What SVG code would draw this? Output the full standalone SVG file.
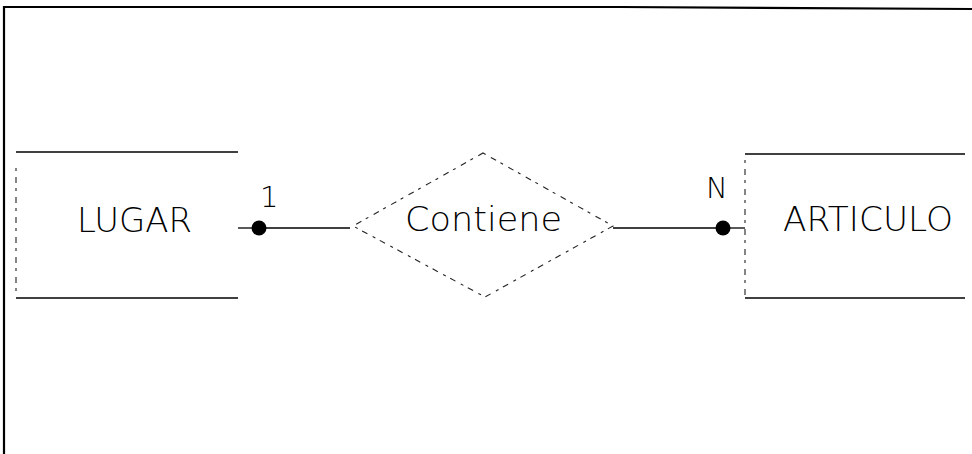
<svg xmlns="http://www.w3.org/2000/svg" width="972" height="454" viewBox="0 0 972 454">
  <style>
    .frame { stroke: #000; stroke-width: 2.2; fill: none; }
    .edge { stroke: #000; stroke-width: 1.3; fill: none; }
    .broken { stroke: #222; stroke-width: 1.1; fill: none; stroke-dasharray: 3 6 6 5; }
    .lbl { font-family: "DejaVu Sans", "Liberation Sans", sans-serif; font-weight: 200; fill: #000; }
    .name { font-size: 34px; }
    .card { font-size: 29px; }
    .dot { fill: #000; }
  </style>

  <!-- sheet frame: top and left edges only -->
  <g id="frame">
    <path class="frame" d="M3,7 L620,7 L972,9"/>
    <line class="frame" x1="4" y1="6" x2="4" y2="454"/>
  </g>

  <!-- entity LUGAR -->
  <g id="lugar">
    <line class="edge" x1="16" y1="152" x2="238" y2="152"/>
    <line class="edge" x1="16" y1="298" x2="238" y2="298"/>
    <line class="broken" x1="16" y1="168" x2="16" y2="296"/>
    <text class="lbl name" x="77" y="232" textLength="115" lengthAdjust="spacingAndGlyphs">LUGAR</text>
  </g>

  <!-- relationship Contiene -->
  <g id="contiene">
    <path class="broken" d="M483,153 L613,226 L485,297 L353,226 Z"/>
    <text class="lbl name" x="405" y="231" textLength="157" lengthAdjust="spacingAndGlyphs">Contiene</text>
  </g>

  <!-- entity ARTICULO -->
  <g id="articulo">
    <line class="edge" x1="745" y1="154" x2="965" y2="154"/>
    <line class="edge" x1="745" y1="298" x2="965" y2="298"/>
    <line class="broken" x1="745" y1="160" x2="745" y2="296"/>
    <text class="lbl name" x="783" y="231" textLength="170" lengthAdjust="spacingAndGlyphs">ARTICULO</text>
  </g>

  <!-- connectors with cardinalities -->
  <g id="connectors">
    <line class="edge" x1="238" y1="228" x2="252" y2="228"/>
    <line class="edge" x1="259" y1="228" x2="350" y2="228"/>
    <circle class="dot" cx="259" cy="228" r="7.5"/>
    <text class="lbl card" x="260" y="207">1</text>

    <line class="edge" x1="613" y1="228" x2="723" y2="228"/>
    <line class="edge" x1="723" y1="228" x2="745" y2="228"/>
    <circle class="dot" cx="723" cy="228" r="7.5"/>
    <text class="lbl card" x="706" y="198">N</text>
  </g>
</svg>
